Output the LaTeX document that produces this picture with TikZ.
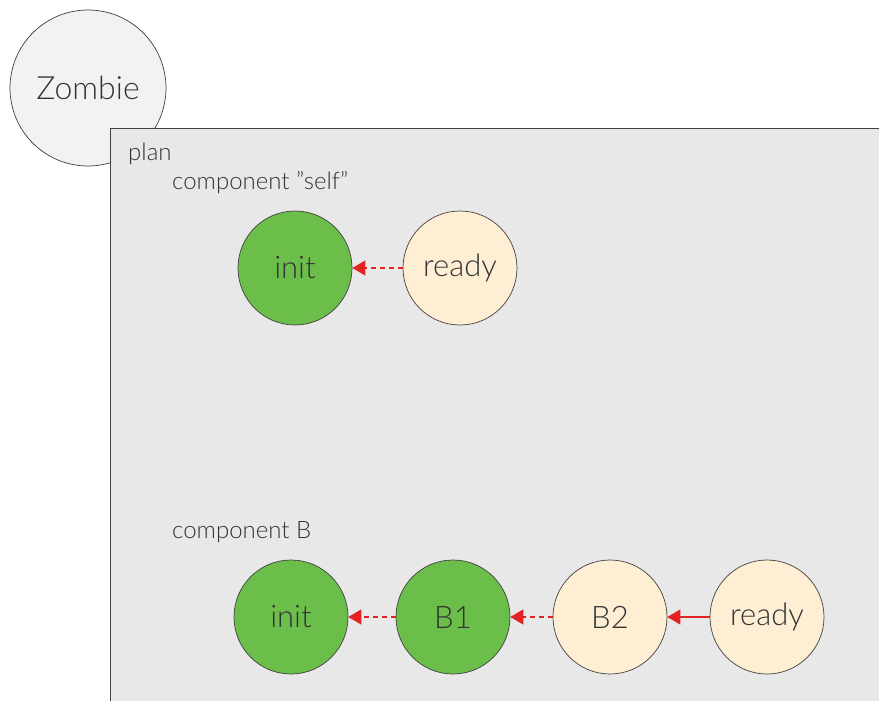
\documentclass[tikz,border=0pt]{standalone}
\usepackage{fontspec}
\setmainfont{Lato}[UprightFont={* Light}]
\usepackage{xcolor}
\usetikzlibrary{arrows.meta}
\definecolor{zbGrey}{HTML}{F2F2F2}
\definecolor{zbPlan}{HTML}{E8E8E8}
\definecolor{zbDone}{HTML}{6CBE4B}
\definecolor{zbTodo}{HTML}{FDEED4}
\definecolor{zbRed}{HTML}{E32222}
\definecolor{zbLine}{HTML}{404040}

\begin{document}
\begin{tikzpicture}[x=1pt, y=-1pt,
    state/.style={circle, draw=zbLine, line width=0.7pt, minimum size=114pt, inner sep=0pt,
      font=\fontsize{31}{34}\selectfont, text=black!80},
    done/.style={state, fill=zbDone},
    todo/.style={state, fill=zbTodo},
    dep/.style={-{Triangle[length=13pt, width=15pt]}, line width=1.5pt, draw=zbRed!75, color=zbRed},
    soft/.style={dep, dashed, dash pattern=on 5pt off 4pt},
    label/.style={anchor=base west, inner sep=0pt, text=black!80, font=\fontsize{24}{27}\selectfont}]
  \clip (0,0) rectangle (879,701);
  \node[state, fill=zbGrey, minimum size=156pt, font=\fontsize{32}{35}\selectfont] (zombie) at (88,88) {Zombie};
  \draw[draw=zbLine, line width=0.8pt, fill=zbPlan] (110,128) rectangle (900,720);
  \node[label] (plan) at (128,160) {plan};
  \node[label] (selfcap) at (172,189) {component ”self”};
  \node[label] (bcap) at (172,538) {component B};
  % component "self"
  \node[done] (sinit) at (295,268) {init};
  \node[todo] (sready) at (460,268) {ready};
  \draw[soft] (sready) -- (sinit);
  % component B
  \node[done] (binit) at (291,617) {init};
  \node[done] (bone) at (453,617) {B1};
  \node[todo] (btwo) at (610,617) {B2};
  \node[todo] (bready) at (767,617) {ready};
  \draw[soft] (bone) -- (binit);
  \draw[soft] (btwo) -- (bone);
  \draw[dep] (bready) -- (btwo);
\end{tikzpicture}
\end{document}
